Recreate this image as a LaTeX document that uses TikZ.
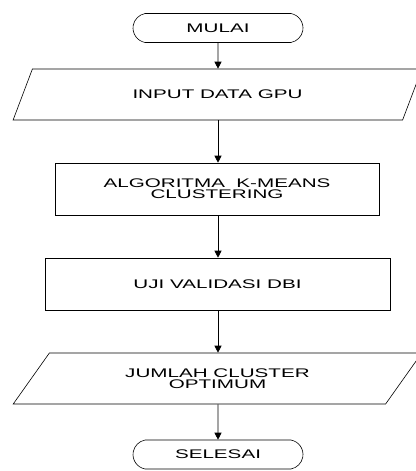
\documentclass[tikz,border=0pt]{standalone}
\usepackage{fontspec}
\newfontfamily\flowfont[FakeStretch=1.65]{Liberation Sans}
\usetikzlibrary{arrows.meta,shapes.geometric,shapes.misc}
\begin{document}
\begin{tikzpicture}[x=1pt, y=-1pt,
			every node/.style={align=center, draw, line width=0.6pt, inner sep=0pt, font=\flowfont\fontsize{12.5}{11}\selectfont},
			terminal/.style={rounded rectangle, rounded rectangle arc length=160, minimum width=170pt, minimum height=29pt},
			process/.style={rectangle, minimum height=52pt},
			io/.style={trapezium, trapezium left angle=45, trapezium right angle=135, trapezium stretches, minimum width=409pt, minimum height=51pt},
			arrow/.style={-{Triangle[width=7pt, length=7pt]}, line width=0.8pt},
		]
		\useasboundingbox (0,0) rectangle (415,471);

		\node[terminal] (start) at (218, 28) {MULAI};
		\node[io] (input) at (217.5, 94.5) {INPUT DATA GPU};
		\node[process, minimum width=324pt] (kmeans) at (217, 189) {ALGORITMA\ \ K-MEANS\\CLUSTERING};
		\node[process, minimum width=345pt] (dbi) at (217.5, 284) {UJI VALIDASI DBI};
		\node[io] (result) at (217.5, 378.5) {JUMLAH CLUSTER\\OPTIMUM};
		\node[terminal] (stop) at (218, 454.5) {SELESAI};

		\draw[arrow] (start) -- (start |- input.north);
		\draw[arrow] (start |- input.south) -- (start |- kmeans.north);
		\draw[arrow] (start |- kmeans.south) -- (start |- dbi.north);
		\draw[arrow] (start |- dbi.south) -- (start |- result.north);
		\draw[arrow] (start |- result.south) -- (stop);
	\end{tikzpicture}
\end{document}
